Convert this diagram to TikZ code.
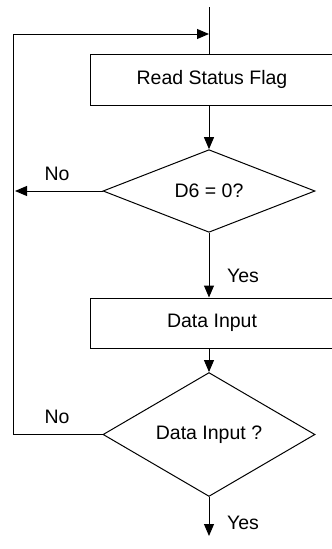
\documentclass[tikz,border=0pt]{standalone}
\usepackage{fontspec}
\setmainfont{Liberation Sans}
\usetikzlibrary{positioning,arrows.meta,shapes.geometric}

\begin{document}
\begin{tikzpicture}[
  x=1pt, y=-1pt,
  every node/.style={font=\fontsize{19.5}{23}\selectfont},
  procbox/.style={
    rectangle, draw=black, line width=1pt,
    minimum width=244pt, minimum height=51pt, inner sep=0pt
  },
  decide/.style={
    diamond, draw=black, line width=1pt,
    minimum width=212pt, minimum height=76pt, inner sep=0pt
  },
  lbl/.style={inner sep=0pt},
  arr/.style={-{Triangle[length=12pt,width=10pt]}, line width=1pt, draw=black},
  line/.style={line width=1pt, draw=black}
]
\useasboundingbox (0,0) rectangle (332,549);

% --- nodes ---
\node[procbox] (readflag) at (212,79.5) {Read Status Flag};
\node[decide] (testdsix) at (209,191) {D6 = 0?};
\node[procbox, minimum height=50pt] (datain) at (212,323) {Data Input};
\node[decide, minimum height=77pt] (testdata) at (209,434.5) {Data Input ?};

% free ends
\coordinate (entry) at (209,7);
\coordinate (join) at (209,34);
\coordinate (noleft) at (15,191);
\coordinate (loopside) at (13,434.5);
\coordinate (exit) at (209,536);

% --- labels ---
\node[lbl] (nofirst) at (57,174) {No};
\node[lbl] (yesfirst) at (243,276) {Yes};
\node[lbl] (nosecond) at (57,417) {No};
\node[lbl] (yessecond) at (243,523) {Yes};

% --- connectors ---
\draw[line] (entry) -- (entry |- readflag.north);
\draw[arr] (testdsix.north |- readflag.south) -- (testdsix.north);
\draw[arr] (testdsix.west) -- (noleft);
\draw[arr] (testdsix.south) -- (testdsix.south |- datain.north);
\draw[arr] (testdata.north |- datain.south) -- (testdata.north);
\draw[arr] (testdata.west) -- (loopside) |- (join);
\draw[arr] (testdata.south) -- (exit);

\end{tikzpicture}
\end{document}
